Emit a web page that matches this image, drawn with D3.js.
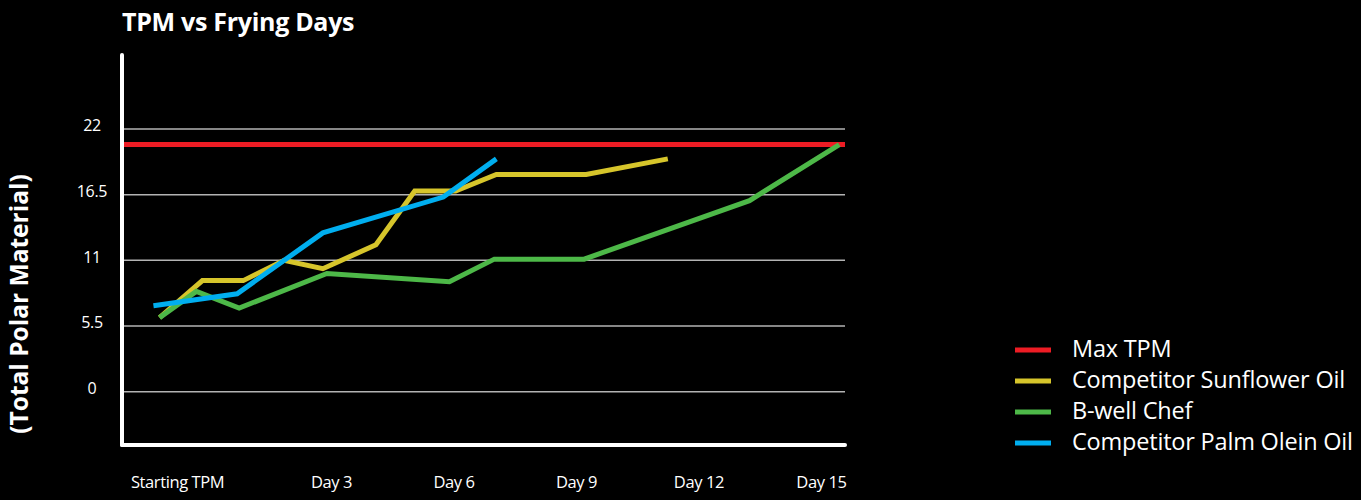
<!DOCTYPE html>
<html>
<head>
<meta charset="utf-8">
<script src="https://cdn.jsdelivr.net/npm/d3@7"></script>
<style>
  body { margin: 0; background: #000; }
  svg { display: block; font-family: "Open Sans", sans-serif; }
</style>
</head>
<body>
<svg id="chart" width="1361" height="500"></svg>
<script>
// x values are in "days"; the start point sits a little before day 0
const tickDays = [-0.77, 3, 6, 9, 12, 15]
const tickLabels = ["Starting TPM", "Day 3", "Day 6", "Day 9", "Day 12", "Day 15"]
const yTicks = [0, 5.5, 11, 16.5, 22]

const maxTPM = 20.7

const sunflowerDays = [-1.2, -0.15, 0.85, 1.85, 2.8, 4.1, 5.05, 6.05, 7.05, 9.25, 11.25]
const sunflowerTPM = [6.2, 9.3, 9.3, 11.0, 10.3, 12.3, 16.8, 16.8, 18.2, 18.2, 19.5]

const bwellDays = [-1.2, -0.3, 0.75, 2.9, 5.9, 7.0, 9.2, 13.25, 15.45]
const bwellTPM = [6.2, 8.4, 7.0, 9.9, 9.2, 11.1, 11.1, 16.0, 20.7]

const palmDays = [-1.35, 0.7, 2.8, 5.75, 7.05]
const palmTPM = [7.2, 8.2, 13.3, 16.3, 19.5]

const legendNames = ["Max TPM", "Competitor Sunflower Oil", "B-well Chef", "Competitor Palm Olein Oil"]
const colors = ["#ed1c24", "#d6c52b", "#4db848", "#00aeef"]

const svg = d3.select("#chart")

// scales: day 0 sits at 208.5px, 40.83px per day
const x = d3.scaleLinear().domain([-2.12, 15.59]).range([122, 845])
const y = d3.scaleLinear().domain([-4.47, 28.2]).range([445, 55])

// gridlines
svg.append("g").selectAll("line").data(yTicks).join("line")
  .attr("x1", x(-2.12)).attr("x2", x(15.59))
  .attr("y1", d => y(d)).attr("y2", d => y(d))
  .attr("stroke", "#b3b3b3").attr("stroke-width", 1.5)

// y tick labels
svg.append("g").selectAll("text").data(yTicks).join("text")
  .attr("x", 92).attr("y", d => y(d) - 2)
  .attr("text-anchor", "middle").attr("dominant-baseline", "middle")
  .attr("fill", "#fff").attr("font-size", 16)
  .attr("letter-spacing", -0.3)
  .text(d => d)

// x tick labels through a bottom axis
const xAxis = d3.axisBottom(x).tickValues(tickDays).tickSize(0)
  .tickFormat((d, i) => tickLabels[i])
const gx = svg.append("g").attr("transform", "translate(0,445)").call(xAxis)
gx.select(".domain").remove()
gx.selectAll("text").attr("fill", "#fff").attr("font-size", 16.5)
  .attr("letter-spacing", -0.4)
  .attr("font-family", "Open Sans, sans-serif").attr("dy", "2.45em")

// max TPM line
svg.append("line")
  .attr("x1", x(-2.12)).attr("x2", x(15.59))
  .attr("y1", y(maxTPM)).attr("y2", y(maxTPM))
  .attr("stroke", colors[0]).attr("stroke-width", 5)

const line = d3.line().x(d => x(d[0])).y(d => y(d[1]))
const series = [
  [sunflowerDays, sunflowerTPM, colors[1]],
  [bwellDays, bwellTPM, colors[2]],
  [palmDays, palmTPM, colors[3]]
]
series.forEach(s => {
  svg.append("path")
    .datum(d3.zip(s[0], s[1]))
    .attr("d", line)
    .attr("fill", "none")
    .attr("stroke", s[2]).attr("stroke-width", 5)
})

// axes lines (white)
svg.append("line").attr("x1", 122).attr("x2", 122).attr("y1", y(28.2)).attr("y2", y(-4.47))
  .attr("stroke", "#fff").attr("stroke-width", 4).attr("stroke-linecap", "round")
svg.append("line").attr("x1", x(-2.12)).attr("x2", x(15.59)).attr("y1", 445).attr("y2", 445)
  .attr("stroke", "#fff").attr("stroke-width", 4).attr("stroke-linecap", "round")

// titles
svg.append("text").attr("x", 122).attr("y", 31)
  .attr("fill", "#fff").attr("font-size", 25).attr("font-weight", "bold")
  .attr("letter-spacing", -0.3)
  .text("TPM vs Frying Days")

svg.append("text")
  .attr("transform", "translate(28,304) rotate(-90)")
  .attr("text-anchor", "middle")
  .attr("fill", "#fff").attr("font-size", 24.5).attr("font-weight", "bold")
  .text("(Total Polar Material)")

// legend
const legend = svg.append("g").attr("transform", "translate(1015,350)")
const rows = legend.selectAll("g").data(legendNames).join("g")
  .attr("transform", (d, i) => "translate(0," + i * 31 + ")")
rows.append("line").attr("x1", 0).attr("x2", 36)
  .attr("stroke", (d, i) => colors[i]).attr("stroke-width", 5)
rows.append("text").attr("x", 57).attr("y", 1)
  .attr("dominant-baseline", "middle")
  .attr("fill", "#fff").attr("font-size", 23.5)
  .attr("letter-spacing", -0.2)
  .text(d => d)
</script>
</body>
</html>
